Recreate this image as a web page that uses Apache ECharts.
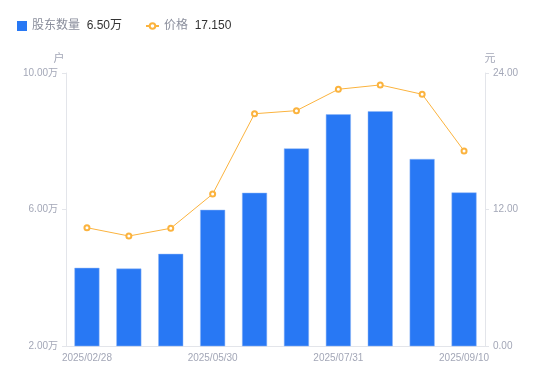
<!DOCTYPE html>
<html><head><meta charset="utf-8">
<script src="https://cdn.jsdelivr.net/npm/echarts@6/dist/echarts.min.js"></script>
<style>html,body{margin:0;padding:0;background:#fff}#c{width:550px;height:381px}</style>
</head><body><div id="c"></div>
<script>
const categories = ['2025/02/28','2025/03/31','2025/04/30','2025/05/30','2025/06/20','2025/06/30','2025/07/31','2025/08/20','2025/08/31','2025/09/10'];
const holders = [4.29, 4.27, 4.70, 5.99, 6.49, 7.79, 8.79, 8.88, 7.48, 6.50];
const prices = [10.40, 9.67, 10.35, 13.36, 20.42, 20.69, 22.57, 22.95, 22.13, 17.15];
const leftTicks = {min: 2, max: 10, interval: 4};
const rightTicks = {min: 0, max: 24, interval: 12};

const chart = echarts.init(document.getElementById('c'));
const font = '"Liberation Sans", Arial, "Noto Sans CJK SC", sans-serif';
const gray = '#a3a7b7';
const lineColor = '#e3e5ea';
const rich = {
  n: {color: '#8a8e9c', fontSize: 12, fontFamily: font},
  v: {color: '#333', fontSize: 12, fontFamily: font}
};
chart.setOption({
  animation: false,
  textStyle: {fontFamily: font},
  legend: [{
    left: 12, top: 15, itemWidth: 10, itemHeight: 10,
    data: [{name: '股东数量', icon: 'rect', itemStyle: {borderWidth: 0}}],
    formatter: name => '{n|' + name + '}  {v|' + holders[holders.length-1].toFixed(2) + '万}',
    textStyle: {rich: rich}
  }, {
    left: 140, top: 15, itemWidth: 13, itemHeight: 7,
    data: [{name: '价格'}],
    formatter: name => '{n|' + name + '}  {v|' + prices[prices.length-1].toFixed(3) + '}',
    textStyle: {rich: rich}
  }],
  grid: {left: 66, right: 65, top: 73, bottom: 35},
  xAxis: {
    type: 'category', data: categories,
    axisLine: {lineStyle: {color: lineColor}},
    axisTick: {show: false},
    axisLabel: {color: gray, fontSize: 10, interval: 2, margin: 7}
  },
  yAxis: [{
    type: 'value', name: '户', nameGap: 9,
    nameTextStyle: {color: gray, fontSize: 11, padding: [0, 14, 0, 0]},
    min: leftTicks.min, max: leftTicks.max, interval: leftTicks.interval,
    axisLine: {show: true, lineStyle: {color: lineColor}},
    axisTick: {show: true, length: 4, lineStyle: {color: lineColor}},
    splitLine: {show: false},
    axisLabel: {color: gray, fontSize: 10, margin: 8, formatter: v => v.toFixed(2) + '万'}
  }, {
    type: 'value', name: '元', nameGap: 9,
    nameTextStyle: {color: gray, fontSize: 11, padding: [0, 0, 0, 10]},
    min: rightTicks.min, max: rightTicks.max, interval: rightTicks.interval,
    axisLine: {show: true, lineStyle: {color: lineColor}},
    axisTick: {show: true, length: 4, lineStyle: {color: lineColor}},
    splitLine: {show: false},
    axisLabel: {color: gray, fontSize: 10, margin: 8, formatter: v => v.toFixed(2)}
  }],
  series: [{
    name: '股东数量', type: 'bar', data: holders, yAxisIndex: 0,
    barWidth: 25,
    itemStyle: {color: '#2878f4', borderColor: '#8fb6f7', borderWidth: 0.5}
  }, {
    name: '价格', type: 'line', data: prices, yAxisIndex: 1,
    symbol: 'emptyCircle', symbolSize: 5,
    lineStyle: {color: '#fbb33e', width: 1},
    itemStyle: {color: '#fbb33e', borderWidth: 1.5}
  }]
});
</script></body></html>
